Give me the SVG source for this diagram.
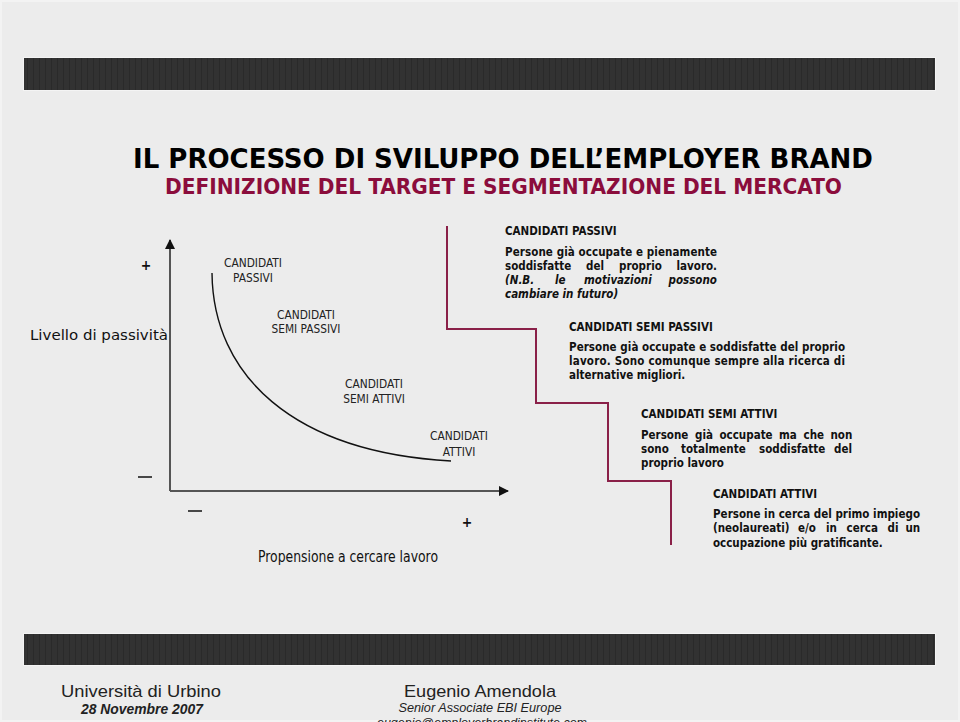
<svg xmlns="http://www.w3.org/2000/svg" width="960" height="722" viewBox="0 0 960 722">
<defs>
<marker id="arr" markerWidth="10" markerHeight="10" refX="9" refY="5" orient="auto" markerUnits="userSpaceOnUse">
<path d="M0,0 L10,5 L0,10 Z" fill="#111"/>
</marker>
<pattern id="stripe" width="6" height="10" patternUnits="userSpaceOnUse">
<rect width="6" height="10" fill="#323232"/>
<rect x="3" width="1" height="10" fill="#2a2a2a"/>
</pattern>
</defs>
<style>
.bar{fill:url(#stripe);stroke:#f4f4f4;stroke-width:1}
.title{font-family:"DejaVu Sans Condensed","DejaVu Sans",sans-serif;font-weight:bold}
.lbl{font-family:"DejaVu Sans Condensed","DejaVu Sans",sans-serif;font-size:11.8px;fill:#222;text-anchor:middle}
.ax{font-family:"DejaVu Sans Condensed","DejaVu Sans",sans-serif;fill:#111}
.blk{font-family:"DejaVu Sans Condensed","DejaVu Sans",sans-serif;font-size:11.5px;font-weight:bold;fill:#111}
.it{font-style:italic}
.stair{fill:none;stroke:#8a2048;stroke-width:2}
.axis{stroke:#555;stroke-width:2;fill:none}
.foot{font-family:"Liberation Sans",Arial,sans-serif;fill:#222;text-anchor:middle}
</style>
<rect width="960" height="722" fill="#ececec"/>
<rect x="1" y="1" width="958" height="720" fill="none" stroke="#f3f3f3" stroke-width="2"/>
<g id="topbar"><rect class="bar" x="23.5" y="57.5" width="912" height="33"/></g>
<g id="bottombar"><rect class="bar" x="23.5" y="633.5" width="912" height="32"/></g>

<g id="title">
<text class="title" x="133" y="168" font-size="27" fill="#000" textLength="740" lengthAdjust="spacingAndGlyphs">IL PROCESSO DI SVILUPPO DELL’EMPLOYER BRAND</text>
<text class="title" x="165" y="194" font-size="21" fill="#8b0d3c" textLength="677" lengthAdjust="spacingAndGlyphs">DEFINIZIONE DEL TARGET E SEGMENTAZIONE DEL MERCATO</text>
</g>

<g id="connectors">
<path class="axis" d="M170,491 V240" marker-end="url(#arr)"/>
<path class="axis" d="M170,491 H508" marker-end="url(#arr)"/>
<path d="M212,273 C213,375 292,452 451,461" fill="none" stroke="#111" stroke-width="1.4"/>
<path class="stair" d="M447,226 V329 H536 V403 H608 V481 H671 V545"/>
</g>

<g id="axis-labels">
<text class="ax" x="146" y="270" font-size="14" font-weight="bold" text-anchor="middle">+</text>
<text class="ax" x="30" y="340" font-size="14.5" textLength="138" lengthAdjust="spacingAndGlyphs">Livello di passività</text>
<path d="M138,477 H152 M188,511 H202" stroke="#111" stroke-width="1.5"/>
<text class="ax" x="467" y="527" font-size="14" font-weight="bold" text-anchor="middle">+</text>
<text class="ax" x="258" y="562" font-size="15.5" textLength="180" lengthAdjust="spacingAndGlyphs">Propensione a cercare lavoro</text>
</g>

<g id="curve-passivi"><text class="lbl" x="253" y="267">CANDIDATI</text><text class="lbl" x="253" y="282">PASSIVI</text></g>
<g id="curve-semipassivi"><text class="lbl" x="306" y="319">CANDIDATI</text><text class="lbl" x="306" y="333">SEMI PASSIVI</text></g>
<g id="curve-semiattivi"><text class="lbl" x="374" y="388">CANDIDATI</text><text class="lbl" x="374" y="403">SEMI ATTIVI</text></g>
<g id="curve-attivi"><text class="lbl" x="459" y="440">CANDIDATI</text><text class="lbl" x="459" y="456">ATTIVI</text></g>

<g id="block-passivi">
<text class="blk" x="505" y="235">CANDIDATI PASSIVI</text>
<text class="blk" x="505" y="256" textLength="212" lengthAdjust="spacing">Persone già occupate e pienamente</text>
<text class="blk" y="270"><tspan x="505">soddisfatte</tspan><tspan x="586">del</tspan><tspan x="619">proprio</tspan><tspan x="676.5">lavoro.</tspan></text>
<text class="blk it" y="284"><tspan x="505">(N.B.</tspan><tspan x="555">le</tspan><tspan x="584">motivazioni</tspan><tspan x="668.5">possono</tspan></text>
<text class="blk it" x="505" y="298">cambiare in futuro)</text>
</g>

<g id="block-semipassivi">
<text class="blk" x="569" y="331">CANDIDATI SEMI PASSIVI</text>
<text class="blk" x="569" y="351" textLength="276" lengthAdjust="spacing">Persone già occupate e soddisfatte del proprio</text>
<text class="blk" x="569" y="365" textLength="276" lengthAdjust="spacing">lavoro. Sono comunque sempre alla ricerca di</text>
<text class="blk" x="569" y="379">alternative migliori.</text>
</g>

<g id="block-semiattivi">
<text class="blk" x="641" y="418">CANDIDATI SEMI ATTIVI</text>
<text class="blk" y="439"><tspan x="641">Persone</tspan><tspan x="695">già</tspan><tspan x="719.5">occupate</tspan><tspan x="779">ma</tspan><tspan x="803.5">che</tspan><tspan x="830.5">non</tspan></text>
<text class="blk" y="453"><tspan x="641">sono</tspan><tspan x="681">totalmente</tspan><tspan x="759">soddisfatte</tspan><tspan x="834">del</tspan></text>
<text class="blk" x="641" y="467">proprio lavoro</text>
</g>

<g id="block-attivi">
<text class="blk" x="713" y="498">CANDIDATI ATTIVI</text>
<text class="blk" x="713" y="518" textLength="207" lengthAdjust="spacing">Persone in cerca del primo impiego</text>
<text class="blk" y="532"><tspan x="713">(neolaureati)</tspan><tspan x="798">e/o</tspan><tspan x="826">in</tspan><tspan x="846.5">cerca</tspan><tspan x="887.5">di</tspan><tspan x="905.5">un</tspan></text>
<text class="blk" x="713" y="547">occupazione più gratificante.</text>
</g>

<g id="footer">
<text class="foot" x="141" y="697" font-size="17" textLength="160" lengthAdjust="spacingAndGlyphs">Università di Urbino</text>
<text class="foot" x="142" y="714" font-size="14" font-weight="bold" font-style="italic" textLength="122" lengthAdjust="spacingAndGlyphs">28 Novembre 2007</text>
<text class="foot" x="480" y="697" font-size="17" textLength="152" lengthAdjust="spacingAndGlyphs">Eugenio Amendola</text>
<text class="foot" x="480" y="712" font-size="13" font-style="italic" textLength="163" lengthAdjust="spacingAndGlyphs">Senior Associate EBI Europe</text>
<text class="foot" x="482" y="727" font-size="13" font-style="italic" textLength="210" lengthAdjust="spacingAndGlyphs">eugenio@employerbrandinstitute.com</text>
</g>
</svg>
